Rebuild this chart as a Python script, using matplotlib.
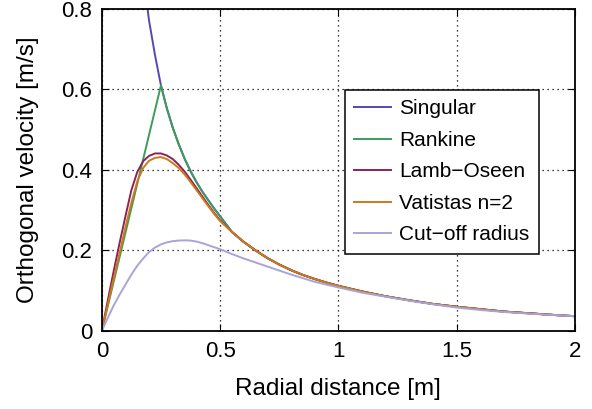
import numpy as np
import matplotlib.pyplot as plt

plt.rcParams['font.family'] = ['Liberation Sans', 'DejaVu Sans']

# radial positions [m]
r_core = [0, 0.025, 0.05, 0.075, 0.1, 0.125, 0.15, 0.175, 0.2, 0.225, 0.25,
          0.275, 0.3, 0.325, 0.35, 0.375, 0.4, 0.425, 0.45, 0.475, 0.5]
r_tail = [0.55, 0.6, 0.65, 0.7, 0.75, 0.8, 0.85, 0.9, 0.95, 1.0,
          1.1, 1.2, 1.3, 1.4, 1.5, 1.6, 1.7, 1.8, 1.9, 2.0]

# shared outer decay of the core models
v_tail = [0.246, 0.221, 0.200, 0.181, 0.165, 0.151, 0.139, 0.129, 0.120, 0.112,
          0.098, 0.086, 0.076, 0.067, 0.060, 0.054, 0.048, 0.044, 0.040, 0.0365]

r_singular = [0.18, 0.2, 0.225, 0.25]
v_singular = [0.86, 0.77, 0.685, 0.61]

v_rankine = [0, 0.061, 0.122, 0.183, 0.244, 0.305, 0.366, 0.427, 0.488, 0.549, 0.61,
             0.553, 0.505, 0.464, 0.428, 0.397, 0.370, 0.346, 0.325, 0.304, 0.285]
v_lamb = [0, 0.075, 0.148, 0.218, 0.285, 0.350, 0.395, 0.422, 0.435, 0.441, 0.441,
          0.436, 0.427, 0.413, 0.396, 0.376, 0.355, 0.334, 0.313, 0.293, 0.275]
v_vatistas = [0, 0.065, 0.130, 0.193, 0.258, 0.318, 0.372, 0.405, 0.423, 0.430, 0.432,
              0.427, 0.417, 0.405, 0.389, 0.370, 0.350, 0.330, 0.310, 0.291, 0.273]
v_cutoff = [0, 0.032, 0.063, 0.090, 0.115, 0.140, 0.162, 0.180, 0.196, 0.207, 0.215,
            0.220, 0.223, 0.2245, 0.225, 0.2245, 0.222, 0.218, 0.213, 0.208, 0.203]
v_cutoff_tail = [0.191, 0.180, 0.170, 0.160, 0.150, 0.140, 0.131, 0.122, 0.115, 0.108,
                 0.095, 0.085, 0.075, 0.066, 0.058, 0.052, 0.047, 0.043, 0.0395, 0.0365]

r_all = r_core + r_tail
# singular vortex coincides with Rankine outside the core
r_sing_all = r_singular + r_core[11:] + r_tail
v_sing_all = v_singular + v_rankine[11:] + v_tail

fig, ax = plt.subplots(figsize=(5.92, 4.09), dpi=100)
fig.subplots_adjust(left=0.172, right=0.971, bottom=0.191, top=0.978)

ax.plot(r_sing_all, v_sing_all, color='#5548b0', lw=1.4, label='Singular')
ax.plot(r_all, v_rankine + v_tail, color='#3d9b5c', lw=1.4, label='Rankine')
ax.plot(r_all, v_lamb + v_tail, color='#8a2456', lw=1.4, label='Lamb\u2212Oseen')
ax.plot(r_all, v_vatistas + v_tail, color='#cc7a1c', lw=1.4, label='Vatistas n=2')
ax.plot(r_all, v_cutoff + v_cutoff_tail, color='#a8a4d8', lw=1.4, label='Cut\u2212off radius')

ax.set_xlim(0, 2)
ax.set_ylim(0, 0.8)
ax.set_xticks([0, 0.5, 1, 1.5, 2])
ax.set_xticklabels(['0', '0.5', '1', '1.5', '2'])
ax.set_yticks([0, 0.2, 0.4, 0.6, 0.8])
ax.set_yticklabels(['0', '0.2', '0.4', '0.6', '0.8'])
ax.tick_params(direction='in', labelsize=16, length=5, top=True, right=True, pad=7)
ax.grid(True, color='black', linestyle=(0, (1, 3)), linewidth=0.9)
for s in ax.spines.values():
    s.set_linewidth(1.3)

ax.set_xlabel('Radial distance [m]', fontsize=17.5, labelpad=12)
ax.set_ylabel('Orthogonal velocity [m/s]', fontsize=17.5, labelpad=16)

leg = ax.legend(loc='upper right', bbox_to_anchor=(0.924, 0.748), borderaxespad=0,
                fontsize=15, fancybox=False, framealpha=1, edgecolor='black',
                handlelength=1.75, handletextpad=0.4, borderpad=0.45, labelspacing=0.6)
leg.get_frame().set_linewidth(1.1)

plt.savefig('out.png')
